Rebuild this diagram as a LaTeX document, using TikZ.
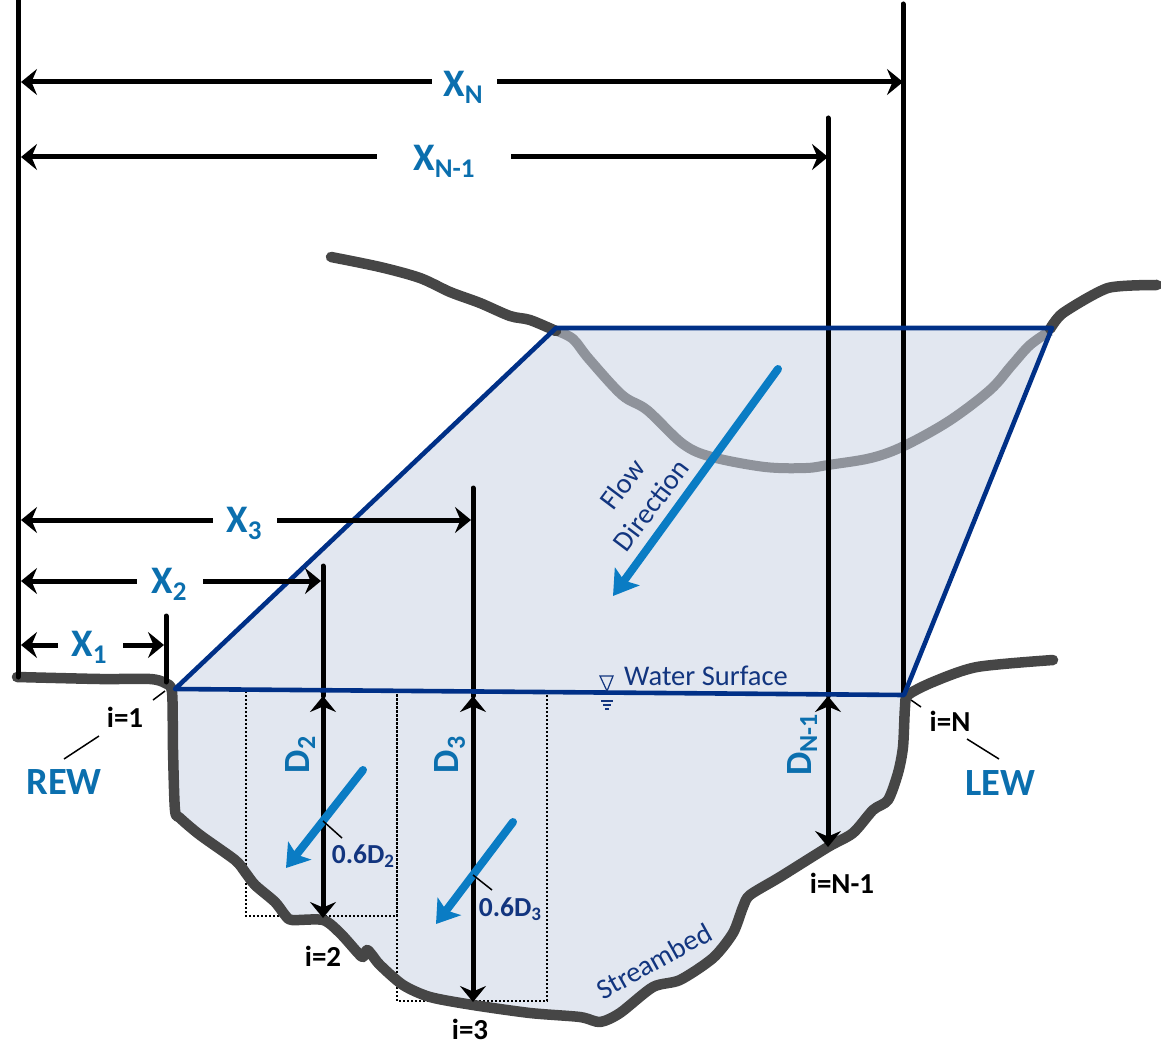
\documentclass[tikz,border=0pt]{standalone}
\usepackage{fontspec}
\setmainfont{Carlito}
\usetikzlibrary{arrows.meta}
\definecolor{pale}{HTML}{E2E7F0}
\definecolor{navy}{HTML}{003087}
\definecolor{labelblue}{HTML}{0B6FAE}
\definecolor{flowblue}{HTML}{0A7CC4}
\definecolor{bedgrey}{HTML}{464646}
\definecolor{fargrey}{HTML}{8F939B}
\definecolor{textnavy}{HTML}{12357F}
\newcommand\fs[1]{\fontsize{#1}{#1}\selectfont}
\newcommand\subx[1]{\raisebox{-7pt}{\fs{27}#1}}
\newcommand\subd[1]{\raisebox{-6pt}{\fs{26}#1}}
\newcommand\subp[1]{\raisebox{-4pt}{\fs{19}#1}}
\tikzset{
  tipk/.tip={Stealth[length=16pt,width=26pt,inset=5.5pt]},
  dimline/.style={line width=5pt,black,{tipk}-{}},
  dimlineb/.style={line width=5pt,black,{}-{tipk}},
  depth/.style={line width=5pt,black,{tipk}-{tipk}},
  vert/.style={line width=5pt,black,line cap=round},
  bluel/.style={line width=4.6pt,navy,line join=round},
  bedl/.style={line width=10.5pt,bedgrey,line join=round,line cap=round},
  farl/.style={line width=10pt,fargrey,line join=round},
  flow/.style={line width=8pt,flowblue,line cap=round,-{Stealth[length=24pt,width=30pt,inset=5pt]}},
  flowsm/.style={line width=8pt,flowblue,line cap=round,-{Stealth[length=22pt,width=29pt,inset=5pt]}},
  leader/.style={line width=1.5pt,black},
  dotbox/.style={line width=1.8pt,black,dash pattern=on 1.8pt off 2.2pt},
  xlab/.style={text=labelblue,font=\bfseries\fs{39},inner sep=0pt},
  dlab/.style={text=labelblue,font=\bfseries\fs{37},inner sep=0pt,rotate=90},
  ewlab/.style={text=labelblue,font=\bfseries\fs{38.5},inner sep=0pt},
  ilab/.style={text=black,font=\bfseries\fs{29},inner sep=0pt},
  plab/.style={text=textnavy,font=\bfseries\fs{27.5},inner sep=0pt},
  tlab/.style={text=textnavy,font=\fs{28.5},inner sep=0pt},
  sym/.style={line width=1.2pt,textnavy}
}
\begin{document}
\begin{tikzpicture}[x=1pt,y=-1pt]
\useasboundingbox (0,0) rectangle (1161,1064);
% water fill
\fill[pale] (175,689) -- (556,328) -- (1052,328) -- (905,694) -- (905,707) -- (903,747) -- (898,773) -- (888,800) -- (873,810) -- (853,833) -- (828,847) -- (760,890) -- (750,895) -- (743,907) -- (733,933) -- (713,958) -- (680,980) -- (653,987) -- (620,1013) -- (600,1022) -- (580,1017) -- (530,1013) -- (473,1005) -- (430,997) -- (403,985) -- (380,965) -- (358,953) -- (340,933) -- (323,920) -- (292,920) -- (285,915) -- (275,902) -- (255,885) -- (245,872) -- (235,860) -- (200,835) -- (180,818) -- (175,810) -- (173,750) -- cycle;
% far bank
\draw[farl] plot[smooth,tension=0.55] coordinates {(557,331) (573,339) (589,359) (622,395) (647,410) (683,444) (712,457) (765,467) (806,468) (828,465) (871,458) (904,446) (949,421) (990,390) (1012,365) (1030,345) (1050,331)};
\draw[bedl] plot[smooth,tension=0.5] coordinates {(331,257) (380,267) (420,278) (450,292) (480,303) (510,316) (530,320) (556,331)};
\draw[bedl] plot[smooth,tension=0.4] coordinates {(1050,329) (1063,313) (1108,288) (1157,285)};
% sampling boxes
\draw[dotbox] (246,691) rectangle (397,916);
\draw[dotbox] (397,691) rectangle (547,1001);
% streambed
\draw[bedl] plot[smooth,tension=0.45] coordinates {(17,677) (100,679) (150,679) (165,683) (172,692) (173,750) (175,810) (180,818) (200,835) (235,860) (245,872) (255,885) (275,902) (285,915) (292,920) (323,920) (340,933) (358,953) (363,957) (367,950) (372,955) (380,965) (403,985) (430,997) (473,1005) (530,1013) (580,1017) (600,1022) (620,1013) (653,987) (680,980) (713,958) (733,933) (743,907) (750,895) (780,877) (828,847) (853,833) (873,810) (888,800) (898,773) (903,747) (905,707) (908,695) (933,682) (977,667) (1053,660)};
% anchors
\coordinate (vL) at (18,0); \coordinate (vLb) at (18,677);
\coordinate (vR) at (903,4); \coordinate (vRb) at (903,694);
\coordinate (v1) at (166,616); \coordinate (v1b) at (166,682);
\coordinate (v2) at (323,566); \coordinate (v2s) at (323,696); \coordinate (v2b) at (323,918);
\coordinate (v3) at (473,488); \coordinate (v3s) at (473,696); \coordinate (v3b) at (473,1002);
\coordinate (vn) at (828,118); \coordinate (vns) at (828,696); \coordinate (vnb) at (828,847);
\draw[vert] (vL) -- (vLb);
\draw[vert] (vR) -- (vRb);
\draw[vert] (v1) -- (v1b);
\draw[vert] (v2) -- (v2s);
\draw[vert] (v3) -- (v3s);
\draw[vert] (vn) -- (vns);
\draw[depth] (v2s) -- (v2b);
\draw[depth] (v3s) -- (v3b);
\draw[depth] (vns) -- (vnb);
% water surface outline
\coordinate (wl) at (175,689); \coordinate (wr) at (904,695);
\coordinate (tl) at (556,328); \coordinate (tr) at (1052,328);
\draw[bluel] (wl) -- (tl) -- (tr) -- (wr) -- cycle;
% dimension labels and arrows
\node[xlab] (xN) at (463,87) {X\subx{N}};
\node[xlab] (xNm) at (444,161) {X\subx{N-1}};
\node[xlab] (x3) at (244,523) {X\subx{3}};
\node[xlab] (x2) at (169,584) {X\subx{2}};
\node[xlab] (x1) at (89,647) {X\subx{1}};
\coordinate (aNa) at (21,82); \coordinate (aNb) at (432,82); \coordinate (aNc) at (497,82); \coordinate (aNd) at (903,82);
\coordinate (bNa) at (21,157); \coordinate (bNb) at (377,157); \coordinate (bNc) at (511,157); \coordinate (bNd) at (828,157);
\coordinate (c3a) at (21,520); \coordinate (c3b) at (213,520); \coordinate (c3c) at (277,520); \coordinate (c3d) at (471,520);
\coordinate (c2a) at (21,581); \coordinate (c2b) at (137,581); \coordinate (c2c) at (203,581); \coordinate (c2d) at (321,581);
\coordinate (c1a) at (21,645); \coordinate (c1b) at (58,645); \coordinate (c1c) at (123,645); \coordinate (c1d) at (164,645);
\draw[dimline] (aNa) -- (aNb); \draw[dimlineb] (aNc) -- (aNd);
\draw[dimline] (bNa) -- (bNb); \draw[dimlineb] (bNc) -- (bNd);
\draw[dimline] (c3a) -- (c3b); \draw[dimlineb] (c3c) -- (c3d);
\draw[dimline] (c2a) -- (c2b); \draw[dimlineb] (c2c) -- (c2d);
\draw[dimline] (c1a) -- (c1b); \draw[dimlineb] (c1c) -- (c1d);
% depth labels
\node[dlab] (d2) at (300,755) {D\subd{2}};
\node[dlab] (d3) at (450,755) {D\subd{3}};
\node[dlab] (dN) at (802,745) {D\subd{N-1}};
% flow arrows
\coordinate (fa) at (778,369); \coordinate (fb) at (613,596);
\coordinate (f2a) at (363,770); \coordinate (f2b) at (286,868);
\coordinate (f3a) at (513,822); \coordinate (f3b) at (436,924);
\draw[flow] (fa) -- (fb);
\draw[flowsm] (f2a) -- (f2b);
\draw[flowsm] (f3a) -- (f3b);
% text labels
\node[tlab,rotate=53] (flowt) at (622,484) {Flow};
\node[tlab,rotate=53] (dirt) at (651,505) {Direction};
\node[tlab] (ws) at (706,676) {Water Surface};
\node[tlab,rotate=29] (sb) at (654,961) {Streambed};
\node[plab] (p2) at (363,856) {0.6D\subp{2}};
\node[plab] (p3) at (510,909) {0.6D\subp{3}};
\node[ilab] (i1) at (125,717) {i=1};
\node[ilab] (i2) at (323,956) {i=2};
\node[ilab] (i3) at (470,1029) {i=3};
\node[ilab] (iNm) at (842,883) {i=N-1};
\node[ilab] (iN) at (950,721) {i=N};
\node[ewlab] (rew) at (64,782) {REW};
\node[ewlab] (lew) at (1000,783) {LEW};
% leaders
\coordinate (l1a) at (153,700); \coordinate (l1b) at (165,691);
\coordinate (l2a) at (64,759); \coordinate (l2b) at (99,736);
\coordinate (l3a) at (323,821); \coordinate (l3b) at (342,838);
\coordinate (l4a) at (473,875); \coordinate (l4b) at (492,890);
\coordinate (l5a) at (911,700); \coordinate (l5b) at (921,707);
\coordinate (l6a) at (967,739); \coordinate (l6b) at (999,759);
\draw[leader] (l1a) -- (l1b);
\draw[leader] (l2a) -- (l2b);
\draw[leader] (l3a) -- (l3b);
\draw[leader] (l4a) -- (l4b);
\draw[leader] (l5a) -- (l5b);
\draw[leader] (l6a) -- (l6b);
% water surface symbol
\coordinate (s1) at (600,676); \coordinate (s2) at (613,676); \coordinate (s3) at (607,691);
\draw[sym] (s1) -- (s2) -- (s3) -- cycle;
\coordinate (s4) at (601,701); \coordinate (s5) at (613,701);
\coordinate (s6) at (603,705); \coordinate (s7) at (611,705);
\coordinate (s8) at (605,709); \coordinate (s9) at (609,709);
\draw[sym] (s4) -- (s5);
\draw[sym] (s6) -- (s7);
\draw[sym] (s8) -- (s9);
\end{tikzpicture}
\end{document}
